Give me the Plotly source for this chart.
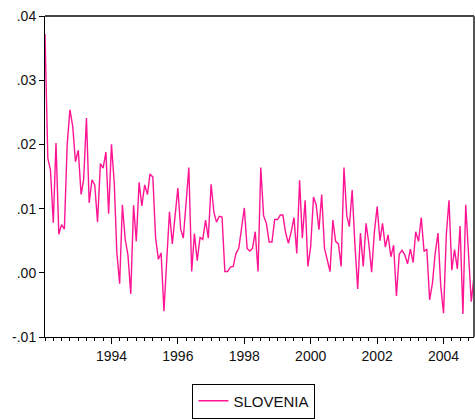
import pandas as pd
import plotly.graph_objects as go

# Monthly series, 1992M01 - 2004M12 (values in decimal units)
start_month = "1992-01-01"
slovenia = [
    3.72, 1.78, 1.60, 0.78, 2.02, 0.60, 0.75, 0.68, 2.00, 2.54, 2.28, 1.73,
    1.91, 1.22, 1.45, 2.41, 1.09, 1.45, 1.37, 0.79, 1.70, 1.63, 1.88, 0.92,
    2.00, 1.39, 0.32, -0.17, 1.06, 0.52, 0.28, -0.33, 1.05, 0.49, 1.41, 1.04,
    1.37, 1.22, 1.54, 1.49, 0.55, 0.21, 0.31, -0.60, 0.20, 0.95, 0.45, 0.90,
    1.32, 0.68, 0.54, 1.10, 1.64, 0.02, 0.61, 0.19, 0.55, 0.52, 0.82, 0.54,
    1.38, 0.94, 0.79, 0.88, 0.87, 0.02, 0.02, 0.09, 0.10, 0.30, 0.38, 0.69,
    1.01, 0.38, 0.34, 0.38, 0.64, 0.02, 1.64, 0.89, 0.77, 0.48, 0.48, 0.83,
    0.83, 0.90, 0.90, 0.62, 0.46, 0.64, 0.86, 0.30, 1.44, 0.54, 1.13, 0.10,
    0.41, 1.18, 1.06, 0.67, 1.22, 0.38, 0.20, 0.02, 0.82, 0.49, 0.45, 0.10,
    1.64, 0.89, 0.72, 1.29, 0.45, -0.25, 0.62, 0.10, 0.77, 0.46, 0.01, 0.63,
    1.03, 0.50, 0.77, 0.40, 0.59, 0.25, 0.43, -0.36, 0.29, 0.35, 0.28, 0.14,
    0.37, 0.16, 0.64, 0.49, 0.86, 0.33, 0.37, -0.42, -0.16, 0.30, 0.62, -0.20,
    -0.63, 0.60, 1.13, 0.04, 0.36, 0.06, 0.73, -0.64, 1.06, 0.40, -0.45, -0.05,
]
slovenia = [v / 100 for v in slovenia]

y_ticks = [-0.01, 0.00, 0.01, 0.02, 0.03, 0.04]
y_labels = ["-.01", ".00", ".01", ".02", ".03", ".04"]
year_ticks = list(range(1992, 2005))
labelled_years = [1994, 1996, 1998, 2000, 2002, 2004]

dates = pd.date_range(start_month, periods=len(slovenia), freq="MS")
major_vals = [pd.Timestamp(f"{y}-01-01") for y in year_ticks]
major_text = [str(y) if y in labelled_years else "" for y in year_ticks]
minor_vals = list(pd.date_range(start_month, dates[-1], freq="QS"))

font = dict(family="Liberation Sans, Arial, sans-serif", size=14, color="#111111")
legend_font = dict(family="Liberation Sans, Arial, sans-serif", size=15, color="#111111")

fig = go.Figure()
fig.add_trace(go.Scatter(
    x=dates, y=slovenia, mode="lines", name="SLOVENIA",
    line=dict(color="#ff1493", width=1.4),
))

fig.update_layout(
    width=475, height=420,
    margin=dict(l=45, r=1, t=16, b=79),
    paper_bgcolor="white", plot_bgcolor="white",
    font=font,
    showlegend=True,
    legend=dict(
        orientation="h", x=0.487, xanchor="center", y=-0.145, yanchor="top",
        bordercolor="black", borderwidth=1, bgcolor="white",
        font=legend_font, itemwidth=30,
    ),
    xaxis=dict(
        range=[dates[0], dates[-1]],
        showgrid=False, zeroline=False,
        showline=True, linecolor="black", linewidth=1,
        tickmode="array", tickvals=major_vals, ticktext=major_text,
        ticks="outside", ticklen=6, tickcolor="black",
        minor=dict(tickmode="array", tickvals=minor_vals, ticks="outside",
                   ticklen=3, tickcolor="black"),
        tickfont=font,
    ),
    yaxis=dict(
        range=[-0.01, 0.04],
        showgrid=False, zeroline=False,
        showline=True, linecolor="black", linewidth=1,
        tickmode="array", tickvals=y_ticks, ticktext=y_labels,
        ticks="outside", ticklen=5, tickcolor="black",
        tickfont=font,
    ),
    shapes=[
        dict(type="line", xref="paper", yref="paper", x0=0, x1=1, y0=1, y1=1,
             line=dict(color="#444444", width=2)),
        dict(type="line", xref="paper", yref="paper", x0=1, x1=1, y0=0, y1=1,
             line=dict(color="#555555", width=2)),
    ],
)

fig.write_html("out.html")
